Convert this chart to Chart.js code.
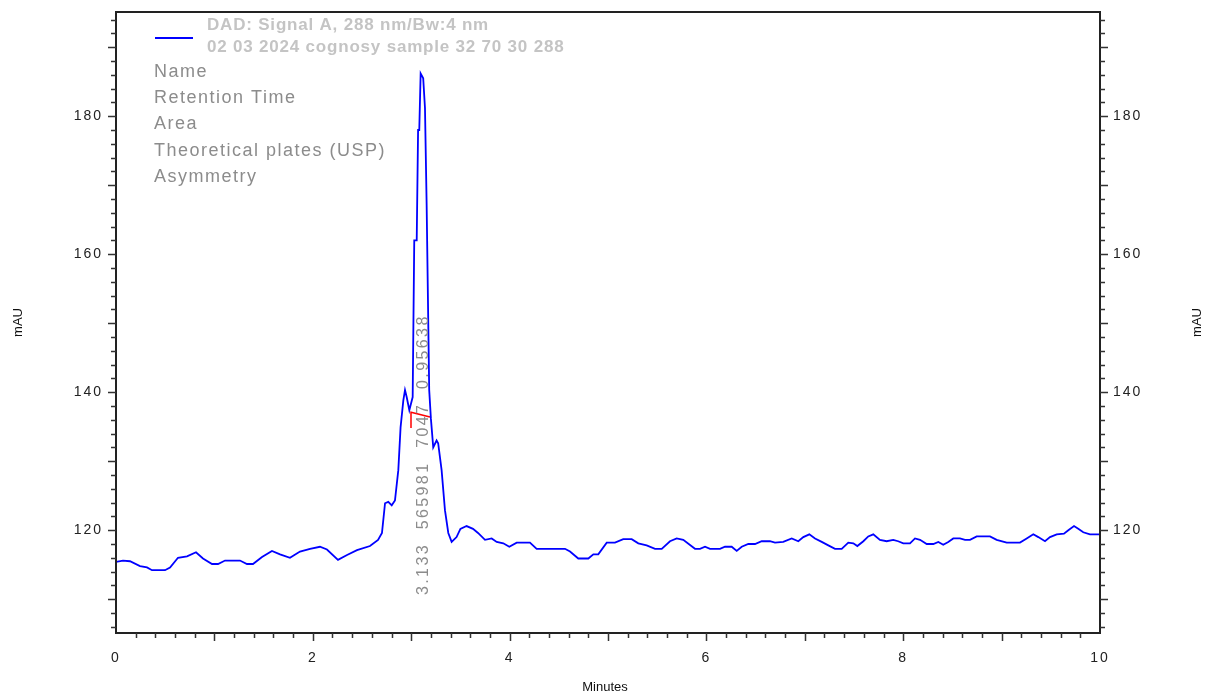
<!DOCTYPE html>
<html>
<head>
<meta charset="utf-8">
<script src="https://cdn.jsdelivr.net/npm/chart.js@4.4.1/dist/chart.umd.min.js"></script>
<style>
  html, body { margin: 0; padding: 0; background: #fff; }
</style>
</head>
<body>
<canvas id="chrom" width="1205" height="694"></canvas>
<script>
// Trace (minutes / mAU)
const times = [
  0, 0.071, 0.142, 0.244, 0.315, 0.366, 0.498, 0.549, 0.630, 0.722,
  0.813, 0.884, 0.976, 1.037, 1.108, 1.260, 1.331, 1.392, 1.484, 1.585,
  1.667, 1.768, 1.870, 1.972, 2.073, 2.144, 2.256, 2.348, 2.449, 2.581,
  2.663, 2.703, 2.734,
  2.767, 2.802, 2.835, 2.869, 2.892, 2.920, 2.937, 2.954, 2.981, 3.015,
  3.031, 3.056, 3.070, 3.082, 3.096, 3.122, 3.140, 3.157, 3.183, 3.200,
  3.224, 3.258, 3.274, 3.309, 3.343, 3.377, 3.411, 3.461, 3.500, 3.563,
  3.628, 3.679, 3.750, 3.818, 3.869, 3.936, 3.997, 4.072, 4.207, 4.275,
  4.563, 4.614, 4.698, 4.800, 4.851, 4.901, 4.987, 5.071, 5.155, 5.241,
  5.308, 5.393, 5.478, 5.546, 5.630, 5.698, 5.765, 5.884, 5.935, 5.986,
  6.037, 6.138, 6.189, 6.257, 6.308, 6.359, 6.426, 6.494, 6.562, 6.646,
  6.697, 6.781,
  6.867, 6.934, 6.985, 7.046, 7.104, 7.172, 7.239, 7.307, 7.375, 7.442,
  7.493, 7.534, 7.595, 7.645, 7.696, 7.764, 7.832, 7.899, 7.949, 8.001,
  8.069, 8.120, 8.171, 8.239, 8.306, 8.357, 8.407, 8.458, 8.509, 8.577,
  8.628, 8.679, 8.747, 8.882, 8.950, 9.052, 9.187, 9.255, 9.322, 9.373,
  9.441, 9.492, 9.560, 9.634, 9.678, 9.736, 9.779, 9.830, 9.898, 10.0
];
const signal = [
  115.4, 115.6, 115.5, 114.8, 114.6, 114.2, 114.2, 114.6, 116.0, 116.2,
  116.8, 115.9, 115.1, 115.1, 115.6, 115.6, 115.1, 115.1, 116.1, 117.0,
  116.5, 116.0, 116.9, 117.3, 117.6, 117.2, 115.7, 116.4, 117.1, 117.7,
  118.6, 119.6, 123.9,
  124.1, 123.6, 124.3, 128.7, 134.9, 138.8, 140.3, 139.3, 137.4, 139.3,
  162.0, 162.0, 178.0, 178.0, 186.2, 185.5, 181.2, 167.1, 140.3, 136.2,
  132.0, 133.0, 132.6, 128.7, 122.9, 119.6, 118.3, 119.0, 120.2, 120.6,
  120.2, 119.6, 118.6, 118.8, 118.3, 118.1, 117.6, 118.2, 118.2, 117.3,
  117.3, 116.9, 115.9, 115.9, 116.5, 116.5, 118.2, 118.2, 118.7, 118.7,
  118.1, 117.8, 117.3, 117.3, 118.4, 118.8, 118.6, 117.3, 117.3, 117.6,
  117.3, 117.3, 117.6, 117.6, 117.0, 117.6, 118.0, 118.0, 118.4, 118.4,
  118.2, 118.3,
  118.8, 118.4, 119.0, 119.4, 118.8, 118.3, 117.8, 117.3, 117.3, 118.2,
  118.1, 117.7, 118.4, 119.1, 119.4, 118.6, 118.4, 118.6, 118.4, 118.1,
  118.1, 118.8, 118.6, 118.0, 118.0, 118.3, 117.9, 118.3, 118.8, 118.8,
  118.6, 118.6, 119.1, 119.1, 118.6, 118.2, 118.2, 118.8, 119.4, 119.0,
  118.4, 119.0, 119.4, 119.5, 120.0, 120.6, 120.2, 119.7, 119.4, 119.4
];

// Integration baseline marker (red)
const markerTimes = [2.998, 2.998, 3.191];
const markerValues = [134.8, 137.1, 136.4];

// Peak table
const peakTime = 3.133;
const peakValues = ['3.133', '565981', '7047', '0.95638'];
const peakFields = ['Name', 'Retention Time', 'Area', 'Theoretical plates (USP)', 'Asymmetry'];
const legendLines = ['DAD: Signal A, 288 nm/Bw:4 nm', '02 03 2024 cognosy sample 32 70 30 288'];

// Axis ranges / ticks
const xMin = 0, xMax = 10, xLabelStep = 2, xMinorStep = 0.2;
const yMin = 105.1, yMax = 195.1, yLabelStep = 20, yMinorStep = 2;

const FONT = '"Liberation Sans", Arial, sans-serif';

const decor = {
  id: 'decor',
  beforeDraw(chart) {
    // wider spacing for the axis numbers
    chart.ctx.letterSpacing = '2px';
  },
  afterDatasetsDraw(chart) {
    const { ctx, scales: { x, y } } = chart;
    // rotated peak results
    ctx.save();
    ctx.translate(x.getPixelForValue(peakTime) - 1, y.getPixelForValue(110.6));
    ctx.rotate(-Math.PI / 2);
    ctx.font = '16px ' + FONT;
    ctx.letterSpacing = '2.4px';
    ctx.fillStyle = '#8c8c8c';
    ctx.textAlign = 'left';
    ctx.textBaseline = 'middle';
    ctx.fillText(peakValues.join('  '), 0, 0);
    ctx.restore();
  },
  afterDraw(chart) {
    const { ctx, chartArea: a, scales: { x, y } } = chart;
    ctx.save();
    // frame
    ctx.strokeStyle = '#222';
    ctx.lineWidth = 2;
    ctx.strokeRect(a.left, a.top, a.right - a.left, a.bottom - a.top);

    // tick marks
    ctx.lineWidth = 1.5;
    ctx.strokeStyle = '#333';
    ctx.beginPath();
    for (let v = Math.ceil(yMin / yMinorStep) * yMinorStep; v <= yMax; v += yMinorStep) {
      const py = Math.round(y.getPixelForValue(v)) + 0.5;
      const len = v % 10 === 0 ? 8 : 5;
      ctx.moveTo(a.left, py); ctx.lineTo(a.left - len, py);
      ctx.moveTo(a.right, py); ctx.lineTo(a.right + len, py);
    }
    for (let i = 1; i * xMinorStep < xMax - 0.001; i++) {
      const t = i * xMinorStep;
      const px = Math.round(x.getPixelForValue(t)) + 0.5;
      const len = i % 5 === 0 ? 8 : 5;
      ctx.moveTo(px, a.bottom); ctx.lineTo(px, a.bottom + len);
    }
    ctx.stroke();

    // legend
    ctx.strokeStyle = '#0000ff';
    ctx.lineWidth = 2;
    ctx.beginPath();
    ctx.moveTo(155, 38); ctx.lineTo(193, 38);
    ctx.stroke();
    ctx.textBaseline = 'middle';
    ctx.textAlign = 'left';
    ctx.font = 'bold 17px ' + FONT;
    ctx.letterSpacing = '0.8px';
    ctx.fillStyle = '#c4c4c4';
    legendLines.forEach((s, i) => ctx.fillText(s, 207, 25 + i * 22));
    ctx.font = '18px ' + FONT;
    ctx.letterSpacing = '1.5px';
    ctx.fillStyle = '#8c8c8c';
    peakFields.forEach((s, i) => ctx.fillText(s, 154, 72 + i * 26.2));

    // axis titles
    ctx.letterSpacing = '0px';
    ctx.fillStyle = '#111';
    ctx.font = '13px ' + FONT;
    ctx.textAlign = 'center';
    ctx.fillText('Minutes', (a.left + a.right) / 2 - 3, 687);
    const midY = (a.top + a.bottom) / 2;
    [18, 1197].forEach(px => {
      ctx.save();
      ctx.translate(px, midY);
      ctx.rotate(-Math.PI / 2);
      ctx.fillText('mAU', 0, 0);
      ctx.restore();
    });
    ctx.restore();
  }
};

const tickFont = { family: FONT, size: 14 };

// fix the side axis widths and drop the label overhang padding
const fitY = w => s => { s.width = w; s.paddingTop = 0; s.paddingBottom = 0; };

new Chart(document.getElementById('chrom'), {
  type: 'line',
  data: {
    datasets: [
      {
        label: 'DAD: Signal A',
        data: times.map((t, i) => ({ x: t, y: signal[i] })),
        borderColor: '#0000ff',
        borderWidth: 1.8,
        pointRadius: 0,
        tension: 0,
        yAxisID: 'y'
      },
      {
        label: 'baseline',
        data: markerTimes.map((t, i) => ({ x: t, y: markerValues[i] })),
        borderColor: '#ff0000',
        borderWidth: 1.5,
        pointRadius: 0,
        tension: 0,
        yAxisID: 'y'
      }
    ]
  },
  options: {
    responsive: false,
    animation: false,
    layout: { padding: { top: 12, left: 0, right: 0, bottom: 0 } },
    plugins: { legend: { display: false }, tooltip: { enabled: false } },
    scales: {
      x: {
        type: 'linear',
        position: 'bottom',
        min: xMin,
        max: xMax,
        grid: { display: false, drawTicks: false },
        border: { display: false },
        ticks: { stepSize: xLabelStep, color: '#222', font: tickFont, padding: 17, maxRotation: 0 },
        afterFit: s => { s.height = 61; }
      },
      y: {
        type: 'linear',
        position: 'left',
        min: yMin,
        max: yMax,
        grid: { display: false, drawTicks: false },
        border: { display: false },
        ticks: { stepSize: yLabelStep, includeBounds: false, color: '#222', font: tickFont, padding: 13 },
        afterFit: fitY(116)
      },
      y2: {
        type: 'linear',
        position: 'right',
        min: yMin,
        max: yMax,
        grid: { display: false, drawTicks: false },
        border: { display: false },
        ticks: { stepSize: yLabelStep, includeBounds: false, color: '#222', font: tickFont, padding: 13 },
        afterFit: fitY(105)
      }
    }
  },
  plugins: [decor]
});
</script>
</body>
</html>
